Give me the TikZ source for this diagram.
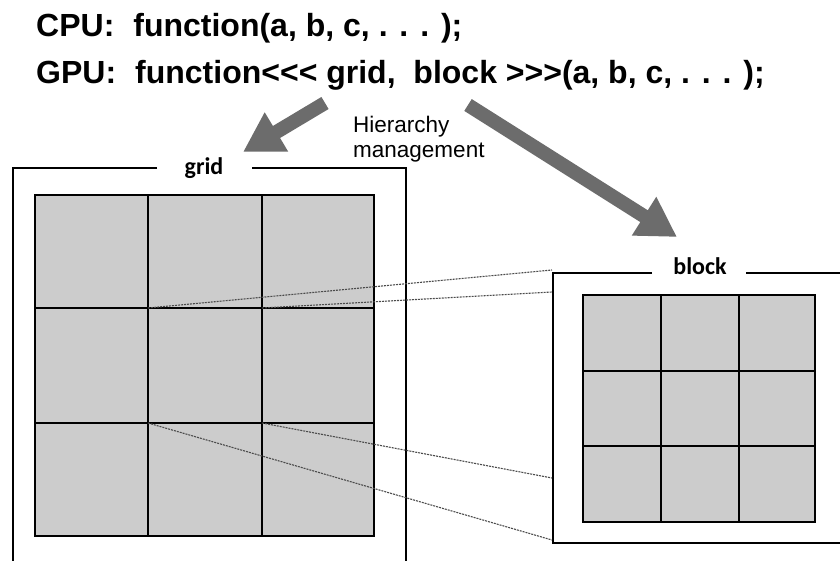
\documentclass[tikz,border=0pt]{standalone}
\usepackage{fontspec}
\setmainfont{Liberation Sans}
\newfontfamily\codefont{Liberation Sans}
\newfontfamily\carlito{Carlito}
\usetikzlibrary{arrows.meta}
\definecolor{arrowgray}{RGB}{108,108,108}
\definecolor{cellgray}{RGB}{204,204,204}
\definecolor{linkgray}{RGB}{75,75,75}
\tikzset{
  frame/.style={line width=2.6pt, line cap=butt},
  cellline/.style={line width=1.8pt},
  bigarrow/.style={arrowgray, line width=14pt, -{Triangle[length=39pt,width=43pt]}},
  link/.style={linkgray, line width=1.1pt, dash pattern=on 2pt off 1pt},
  code/.style={font=\codefont\bfseries\fontsize{32}{38}\selectfont, inner sep=0pt, anchor=base west},
  hier/.style={font=\codefont\fontsize{22.5}{25}\selectfont, inner sep=0pt, anchor=base west},
  lab/.style={inner sep=0pt, anchor=base, font=\carlito\bfseries\fontsize{24}{29}\selectfont}
}
\begin{document}
\begin{tikzpicture}[x=1pt,y=-1pt]
\useasboundingbox (0,0) rectangle (840,561);
\clip (0,0) rectangle (840,561);

% code lines
\node[code] (cpu) at (36,37) {CPU:\hspace{19pt}function(a, b, c, . . . );};
\node[code] (gpu) at (36,84) {GPU:\hspace{19pt}function<<< grid,\ \ block >>>(a, b, c, . . . );};

% hierarchy label
\node[hier] (h1) at (353,133) {Hierarchy};
\node[hier] (h2) at (353,158) {management};

% arrows
\coordinate (a1s) at (325,103);
\coordinate (a1e) at (243,152);
\coordinate (a2s) at (468,105);
\coordinate (a2e) at (677,237);
\draw[bigarrow] (a1s) -- (a1e);
\draw[bigarrow] (a2s) -- (a2e);

% grid frame
\node[lab] (gridlab) at (204,175) {grid};
\draw[frame] (157,168) -- (13,168) -- (13,580);
\draw[frame] (252,168) -- (406,168) -- (406,580);

% grid cells
\fill[cellgray] (35,195) rectangle (374,536);
\draw[cellline] (35,195) rectangle (374,536);
\draw[cellline] (148,195) -- (148,536) (262,195) -- (262,536)
                (35,308) -- (374,308) (35,423) -- (374,423);

% block frame
\node[lab] (blocklab) at (700,275) {block};
\draw[frame] (652,273) -- (553,273) -- (553,543) -- (860,543);
\draw[frame] (746,273) -- (860,273);

% block cells
\fill[cellgray] (583,295) rectangle (815,522);
\draw[cellline] (583,295) rectangle (815,522);
\draw[cellline] (661,295) -- (661,522) (739,295) -- (739,522)
                (583,371) -- (815,371) (583,446) -- (815,446);

% projection lines
\coordinate (gA) at (148,308);
\coordinate (gB) at (262,308);
\coordinate (gC) at (262,423);
\coordinate (gD) at (148,423);
\coordinate (bA) at (552,270);
\coordinate (bB) at (552,292);
\coordinate (bC) at (552,478);
\coordinate (bD) at (552,540);
\draw[link] (gA) -- (bA);
\draw[link] (gB) -- (bB);
\draw[link] (gC) -- (bC);
\draw[link] (gD) -- (bD);
\end{tikzpicture}
\end{document}
